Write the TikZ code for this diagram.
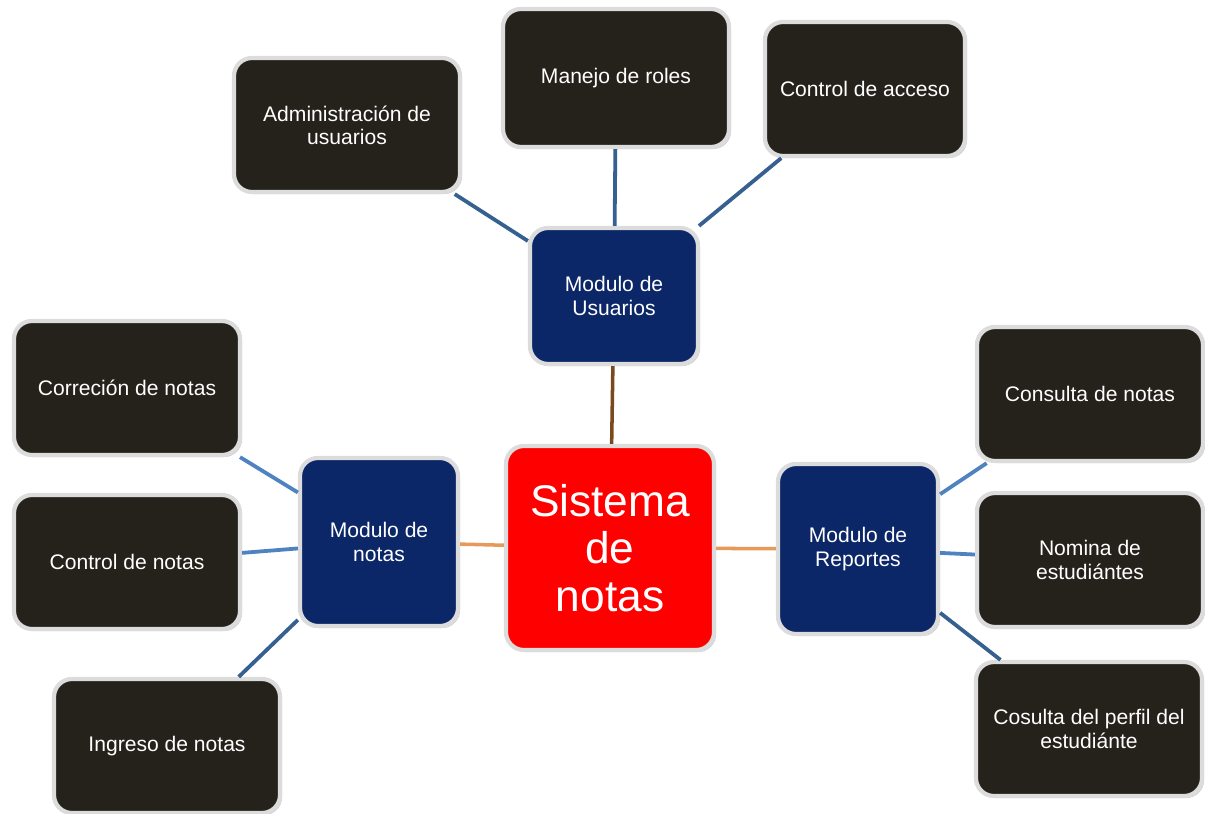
\documentclass[tikz,border=0pt]{standalone}
\usepackage{fontspec}
\setmainfont{Liberation Sans}
\usetikzlibrary{shadows}
\definecolor{cajaosc}{HTML}{25221B}
\definecolor{azulmod}{HTML}{0B2767}
\definecolor{rojosis}{HTML}{FF0000}
\definecolor{bordegris}{HTML}{DCDCDC}
\definecolor{lineaazul}{HTML}{4F82C0}
\definecolor{lineaosc}{HTML}{35608F}
\definecolor{lineacafe}{HTML}{7A4A1E}
\definecolor{lineanar}{HTML}{E59A5C}

\begin{document}
\begin{tikzpicture}[x=0.025cm,y=-0.025cm,
    caja/.style={rectangle,draw=bordegris,line width=3pt,rounded corners=0.45cm,
      align=center,text=white,font=\fontsize{15}{16.5}\selectfont,
      drop shadow={shadow xshift=1.5pt,shadow yshift=-1.5pt,opacity=0.35}},
    hoja/.style={caja,fill=cajaosc,minimum width=5.65cm,minimum height=3.35cm},
    modulo/.style={caja,fill=azulmod},
    rama/.style={line width=2.7pt,lineaazul},
    ramaosc/.style={line width=2.7pt,lineaosc}]
                \useasboundingbox (0,0) rectangle (1205,814);
                % nodo central y modulos
                \node[caja,fill=rojosis,minimum width=5.2cm,minimum height=5.1cm,
                      font=\fontsize{31.5}{34}\selectfont] (sis) at (610,548) {Sistema\\de\\notas};
                \node[modulo,minimum width=4.2cm,minimum height=3.4cm] (modU) at (614,296) {Modulo de\\Usuarios};
                \node[modulo,minimum width=3.95cm,minimum height=4.2cm] (modN) at (379,542) {Modulo de\\notas};
                \node[modulo,minimum width=4.0cm,minimum height=4.25cm] (rep) at (858,549) {Modulo de\\Reportes};
                % hojas
                \node[hoja] (adm) at (347,125) {Administración de\\usuarios};
                \node[hoja,minimum height=3.45cm] (rol) at (616,78) {Manejo de roles};
                \node[hoja,minimum width=5.0cm] (acc) at (865,89) {Control de acceso};
                \node[hoja] (cor) at (127,388) {Correción de notas};
                \node[hoja] (con) at (127,562) {Control de notas};
                \node[hoja] (ing) at (167,746) {Ingreso de notas};
                \node[hoja] (cnt) at (1090,394) {Consulta de notas};
                \node[hoja] (nom) at (1090,560) {Nomina de\\estudiántes};
                \node[hoja] (per) at (1089,729) {Cosulta del perfil del\\estudiánte};
                % conectores
                \draw[line width=2.5pt,lineacafe] (sis) -- (modU);
                \draw[line width=2.5pt,lineanar] (modN) -- (sis);
                \draw[line width=2.5pt,lineanar] (sis) -- (rep);
                \draw[ramaosc] (modU) -- (adm);
                \draw[ramaosc] (modU) -- (rol);
                \draw[ramaosc] (modU) -- (acc);
                \draw[rama] (modN) -- (cor);
                \draw[rama] (modN) -- (con);
                \draw[ramaosc] (modN) -- (ing);
                \draw[rama] (rep) -- (cnt);
                \draw[rama] (rep) -- (nom);
                \draw[ramaosc] (rep) -- (per);
            \end{tikzpicture}
\end{document}
